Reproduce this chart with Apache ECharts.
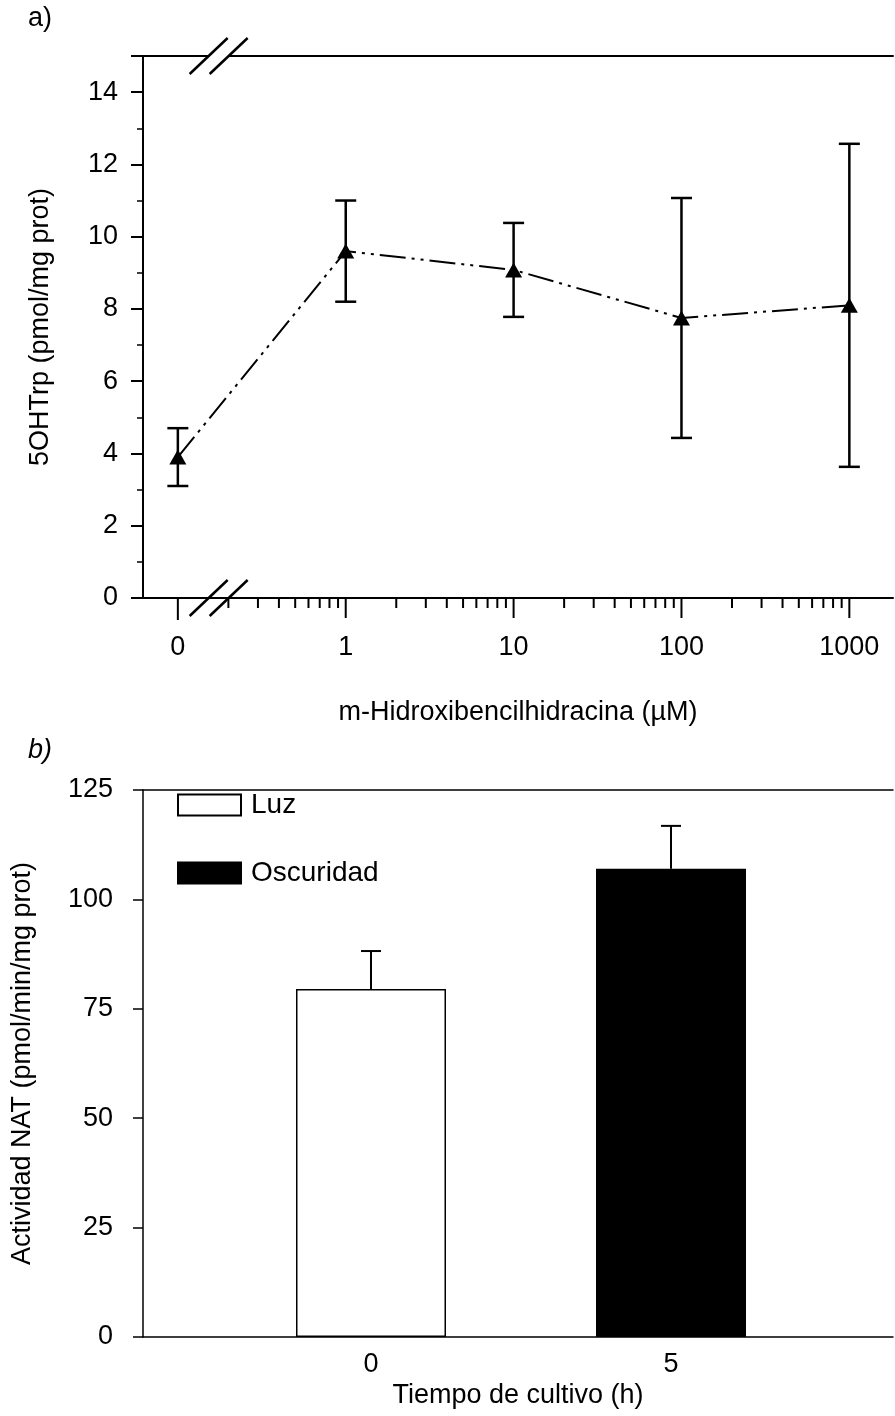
<!DOCTYPE html>
<html>
<head>
<meta charset="utf-8">
<script src="https://cdn.jsdelivr.net/npm/echarts@6/dist/echarts.min.js"></script>
<style>
html,body{margin:0;padding:0;background:#fff;}
#chart{width:895px;height:1416px;}
</style>
</head>
<body>
<div id="chart"></div>
<script>
// ---------- Panel a data ----------
const concentrations = [0, 1, 10, 100, 1000];          // µM
const ohtrpMean = [3.9, 9.6, 9.08, 7.75, 8.1];          // pmol/mg prot
const ohtrpErr  = [0.8, 1.4, 1.3, 3.32, 4.47];
const concTickLabels = ['0', '1', '10', '100', '1000'];

// ---------- Panel b data ----------
const cultureTimes = [0, 5];                            // h
const natSeriesNames = ['Luz', 'Oscuridad'];
const natMean = [79.5, 107];                            // pmol/min/mg prot
const natErr  = [8.7, 9.8];

// ---------- helpers ----------
const FONT = "'Liberation Sans', Arial, sans-serif";
const FS = 27;
// The control (0 µM) sits in the broken-axis slot one decade below 1 on the log axis.
const ZERO_SLOT = 0.1;
const xPlot = concentrations.map(c => c === 0 ? ZERO_SLOT : c);

const X_MIN_A = 0.062, X_MAX_A = 1820;

// axis tick marks for the broken log axis (major at decades, minor at 2..9 after the break)
const logTicks = [];
for (let k = -1; k <= 3; k++) {
  const dec = Math.pow(10, k);
  logTicks.push([dec, k === -1 ? 22 : 20]);
  for (let d = 2; d <= 9; d++) {
    const v = d * dec;
    if (v >= 0.2 && v <= X_MAX_A) logTicks.push([v, 10]);
  }
}

const lineData = xPlot.map((x, i) => [x, ohtrpMean[i]]);
const errDataA = xPlot.map((x, i) => [x, ohtrpMean[i], ohtrpErr[i]]);

const chart = echarts.init(document.getElementById('chart'), null, {renderer: 'canvas'});

const option = {
  backgroundColor: '#fff',
  animation: false,
  textStyle: {fontFamily: FONT, color: '#000'},
  grid: [
    {left: 143, right: 2, top: 56, height: 542},
    {left: 143, right: 2, top: 790, height: 547}
  ],
  xAxis: [
    {
      gridIndex: 0, type: 'log', logBase: 10, min: X_MIN_A, max: X_MAX_A,
      axisLine: {show: true, lineStyle: {color: '#000', width: 2}},
      axisTick: {show: false},
      splitLine: {show: false},
      axisLabel: {
        show: true, margin: 36, fontSize: FS, color: '#000', fontFamily: FONT,
        showMinLabel: false, showMaxLabel: false,
        formatter: v => (v < 0.5 ? concTickLabels[0] : String(Math.round(v)))
      },
      name: 'm-Hidroxibencilhidracina (µM)', nameLocation: 'middle', nameGap: 101,
      nameTextStyle: {fontSize: FS, color: '#000', fontFamily: FONT}
    },
    {
      gridIndex: 0, type: 'value', position: 'top', min: 0, max: 1,
      axisLine: {show: true, onZero: false, lineStyle: {color: '#000', width: 2}},
      axisTick: {show: false}, axisLabel: {show: false}, splitLine: {show: false}
    },
    {
      gridIndex: 1, type: 'value', min: -3.8, max: 8.7,
      axisLine: {show: true, onZero: false, lineStyle: {color: '#000', width: 1.5}},
      axisTick: {show: false},
      splitLine: {show: false},
      axisLabel: {
        show: true, margin: 14, fontSize: FS, color: '#000', fontFamily: FONT,
        customValues: cultureTimes, formatter: v => String(v)
      },
      name: 'Tiempo de cultivo (h)', nameLocation: 'middle', nameGap: 45,
      nameTextStyle: {fontSize: FS, color: '#000', fontFamily: FONT}
    },
    {
      gridIndex: 1, type: 'value', position: 'top', min: 0, max: 1,
      axisLine: {show: true, onZero: false, lineStyle: {color: '#000', width: 1.5}},
      axisTick: {show: false}, axisLabel: {show: false}, splitLine: {show: false}
    }
  ],
  yAxis: [
    {
      gridIndex: 0, type: 'value', min: 0, max: 15, interval: 2,
      axisLine: {show: true, onZero: false, lineStyle: {color: '#000', width: 2}},
      axisTick: {show: true, inside: false, length: 12, lineStyle: {color: '#000', width: 2}},
      minorTick: {show: true, splitNumber: 2, length: 6, lineStyle: {color: '#000', width: 1.5}},
      splitLine: {show: false},
      axisLabel: {margin: 25, fontSize: FS, color: '#000', fontFamily: FONT, showMaxLabel: false},
      name: '5OHTrp (pmol/mg prot)', nameLocation: 'middle', nameGap: 89,
      nameTextStyle: {fontSize: FS, color: '#000', fontFamily: FONT}
    },
    {
      gridIndex: 1, type: 'value', min: 0, max: 125, interval: 25,
      axisLine: {show: true, onZero: false, lineStyle: {color: '#000', width: 1.5}},
      axisTick: {show: true, inside: false, length: 10, lineStyle: {color: '#000', width: 1.5}},
      splitLine: {show: false},
      axisLabel: {margin: 30, fontSize: FS, color: '#000', fontFamily: FONT},
      name: 'Actividad NAT (pmol/min/mg prot)', nameLocation: 'middle', nameGap: 107,
      nameTextStyle: {fontSize: FS, color: '#000', fontFamily: FONT}
    }
  ],
  legend: {
    data: natSeriesNames,
    orient: 'vertical', left: 172, top: 786,
    itemWidth: 63, itemHeight: 21, itemGap: 40, icon: 'rect',
    textStyle: {fontSize: 28, color: '#000', fontFamily: FONT, padding: [0, 0, 0, 5]}
  },
  series: [
    // log-axis tick marks (decoration drawn through the axis scale)
    {
      type: 'custom', xAxisIndex: 0, yAxisIndex: 0, silent: true, clip: false,
      data: logTicks, encode: {x: 0},
      renderItem: (params, api) => {
        const p = api.coord([api.value(0), 0]);
        return {type: 'line', shape: {x1: p[0], y1: p[1], x2: p[0], y2: p[1] + api.value(1)},
                style: {stroke: '#000', lineWidth: 2}};
      },
      z: 5
    },
    {
      type: 'line', xAxisIndex: 0, yAxisIndex: 0, data: lineData,
      symbol: 'triangle', symbolSize: [17, 15],
      itemStyle: {color: '#000'},
      lineStyle: {color: '#000', width: 2, type: [26, 6, 3, 6, 3, 6]},
      z: 3
    },
    {
      type: 'custom', xAxisIndex: 0, yAxisIndex: 0, silent: true,
      data: errDataA, encode: {x: 0, y: 1},
      renderItem: (params, api) => {
        const x = api.value(0), m = api.value(1), e = api.value(2);
        const top = api.coord([x, m + e]), bot = api.coord([x, m - e]);
        const w = 10.5;
        const st = {stroke: '#000', lineWidth: 2.5};
        return {type: 'group', children: [
          {type: 'line', shape: {x1: top[0], y1: top[1], x2: bot[0], y2: bot[1]}, style: st},
          {type: 'line', shape: {x1: top[0] - w, y1: top[1], x2: top[0] + w, y2: top[1]}, style: st},
          {type: 'line', shape: {x1: bot[0] - w, y1: bot[1], x2: bot[0] + w, y2: bot[1]}, style: st}
        ]};
      },
      z: 4
    },
    {
      name: natSeriesNames[0], type: 'bar', xAxisIndex: 2, yAxisIndex: 1, stack: 'nat',
      data: [[cultureTimes[0], natMean[0]]], barWidth: 150,
      itemStyle: {color: '#fff', borderColor: '#000', borderWidth: 1.5}
    },
    {
      name: natSeriesNames[1], type: 'bar', xAxisIndex: 2, yAxisIndex: 1, stack: 'nat',
      data: [[cultureTimes[1], natMean[1]]], barWidth: 150,
      itemStyle: {color: '#000', borderColor: '#000', borderWidth: 1.5}
    },
    {
      type: 'custom', xAxisIndex: 2, yAxisIndex: 1, silent: true,
      data: cultureTimes.map((t, i) => [t, natMean[i], natErr[i]]), encode: {x: 0, y: 1},
      renderItem: (params, api) => {
        const x = api.value(0), m = api.value(1), e = api.value(2);
        const top = api.coord([x, m + e]), base = api.coord([x, m]);
        const w = 10;
        const st = {stroke: '#000', lineWidth: 2};
        return {type: 'group', children: [
          {type: 'line', shape: {x1: top[0], y1: top[1], x2: base[0], y2: base[1]}, style: st},
          {type: 'line', shape: {x1: top[0] - w, y1: top[1], x2: top[0] + w, y2: top[1]}, style: st}
        ]};
      },
      z: 4
    }
  ]
};
chart.setOption(option);

// panel labels and axis-break marks (positions taken from the axes)
const bx = chart.convertToPixel({xAxisIndex: 0}, 0.175);
const yBot = chart.convertToPixel({yAxisIndex: 0}, 0);
const yTop = chart.convertToPixel({yAxisIndex: 0}, 15);
function slash(cx, cy) {
  return {type: 'line', shape: {x1: cx - 19, y1: cy + 18, x2: cx + 19, y2: cy - 18},
          style: {stroke: '#000', lineWidth: 2.5}, z: 20};
}
chart.setOption({
  graphic: [
    {type: 'rect', shape: {x: bx - 10, y: yTop - 3, width: 20, height: 6}, style: {fill: '#fff'}, z: 19},
    slash(bx - 10, yTop), slash(bx + 10, yTop),
    slash(bx - 10, yBot), slash(bx + 10, yBot),
    {type: 'text', left: 28, top: 5, style: {text: 'a)', font: '27px ' + FONT, fill: '#000'}},
    {type: 'text', left: 28, top: 737, style: {text: 'b)', font: 'italic 27px ' + FONT, fill: '#000'}}
  ]
});
</script>
</body>
</html>
